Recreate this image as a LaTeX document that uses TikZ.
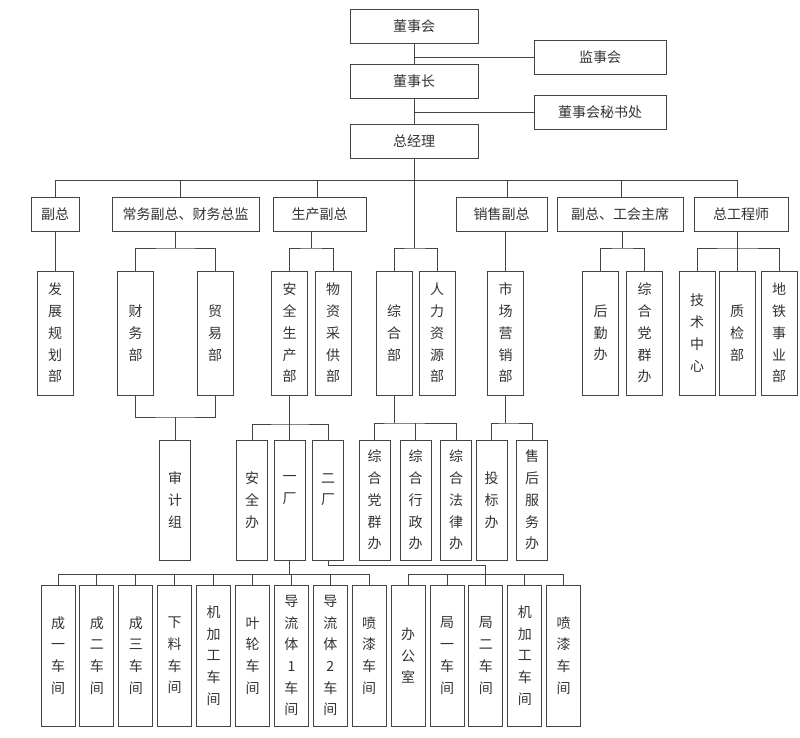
\documentclass[tikz,border=0pt]{standalone}
\usepackage{fontspec}
\newfontfamily\cjk{Noto Sans CJK SC}
\definecolor{linecol}{HTML}{444444}
\definecolor{textcol}{HTML}{333333}
\begin{document}
\begin{tikzpicture}[x=1pt,y=-1pt,
  orgbox/.style={draw=linecol,line width=1pt,inner sep=0pt,text=textcol,
    font=\cjk\fontsize{14}{21.7}\selectfont,align=center},
  hb/.style={orgbox,minimum height=34pt},
  vbA/.style={orgbox,minimum width=36pt,minimum height=124pt},
  vbB/.style={orgbox,minimum width=31pt,minimum height=120pt},
  vbC/.style={orgbox,minimum width=34pt,minimum height=141pt},
  conn/.style={draw=linecol,line width=1pt}]
\useasboundingbox (0,0) rectangle (800,737);
% ---- top
\node[hb,minimum width=128pt] (dsh) at (414,26) {董事会};
\node[hb,minimum width=132pt] (jsh) at (600,57) {监事会};
\node[hb,minimum width=128pt] (dsz) at (414,81.5) {董事长};
\node[hb,minimum width=132pt] (msc) at (600,112) {董事会秘书处};
\node[hb,minimum width=128pt] (zjl) at (414,141.5) {总经理};
% ---- level 2
\node[hb,minimum width=48pt]  (fz) at (55,214) {副总};
\node[hb,minimum width=147pt] (cw) at (185.5,214) {常务副总、财务总监};
\node[hb,minimum width=93pt]  (sc) at (319.5,214) {生产副总};
\node[hb,minimum width=91pt]  (xs) at (501.5,214) {销售副总};
\node[hb,minimum width=126pt] (gh) at (620,214) {副总、工会主席};
\node[hb,minimum width=94pt]  (zg) at (741,214) {总工程师};
% ---- level 3
\node[vbA] (fzgh) at (55,333) {发\\展\\规\\划\\部};
\node[vbA] (cwb) at (135.5,333) {财\\务\\部};
\node[vbA] (myb) at (215,333) {贸\\易\\部};
\node[vbA] (aqsc) at (289.5,333) {安\\全\\生\\产\\部};
\node[vbA] (wzcg) at (333,333) {物\\资\\采\\供\\部};
\node[vbA] (zhb) at (394,333) {综\\合\\部};
\node[vbA] (rlzy) at (437,333) {人\\力\\资\\源\\部};
\node[vbA] (scyx) at (505.5,333) {市\\场\\营\\销\\部};
\node[vbA] (hqb) at (600.5,333) {后\\勤\\办};
\node[vbA] (dqb) at (644.5,333) {综\\合\\党\\群\\办};
\node[vbA] (jszx) at (697,333) {技\\术\\中\\心};
\node[vbA] (zjb) at (737,333) {质\\检\\部};
\node[vbA] (dtsy) at (779,333) {地\\铁\\事\\业\\部};
% ---- level 4
\node[vbB] (sjz) at (175,500) {审\\计\\组};
\node[vbB] (aqb) at (252,500) {安\\全\\办};
\node[vbB] (yc) at (289.5,500) {一\\厂\\{}};
\node[vbB] (ec) at (328,500) {二\\厂\\{}};
\node[vbB] (dq2) at (374.5,500) {综\\合\\党\\群\\办};
\node[vbB] (xz) at (415.5,500) {综\\合\\行\\政\\办};
\node[vbB] (fl) at (456,500) {综\\合\\法\\律\\办};
\node[vbB] (tb) at (491.5,500) {投\\标\\办};
\node[vbB] (sh) at (532,500) {售\\后\\服\\务\\办};
% ---- level 5
\node[vbC] (b1) at (58,655.5) {成\\一\\车\\间};
\node[vbC] (b2) at (96.9,655.5) {成\\二\\车\\间};
\node[vbC] (b3) at (135.8,655.5) {成\\三\\车\\间};
\node[vbC] (b4) at (174.7,655.5) {下\\料\\车\\间};
\node[vbC] (b5) at (213.6,655.5) {机\\加\\工\\车\\间};
\node[vbC] (b6) at (252.5,655.5) {叶\\轮\\车\\间};
\node[vbC] (b7) at (291.4,655.5) {导\\流\\体\\1\\车\\间};
\node[vbC] (b8) at (330.3,655.5) {导\\流\\体\\2\\车\\间};
\node[vbC] (b9) at (369.2,655.5) {喷\\漆\\车\\间};
\node[vbC] (b10) at (408.1,655.5) {办\\公\\室};
\node[vbC] (b11) at (447,655.5) {局\\一\\车\\间};
\node[vbC] (b12) at (485.9,655.5) {局\\二\\车\\间};
\node[vbC] (b13) at (524.8,655.5) {机\\加\\工\\车\\间};
\node[vbC] (b14) at (563.7,655.5) {喷\\漆\\车\\间};
% ---- helper coordinates
\coordinate (bus) at (0,180);
\coordinate (ba) at (0,574);
\coordinate (fzd) at (55,197);
\coordinate (cwd) at (180,197);
\coordinate (scd) at (317,197);
\coordinate (xsd) at (507,197);
\coordinate (ghd) at (621,197);
\coordinate (zgd) at (737,197);
\coordinate (cwj) at (175.5,248);
\coordinate (scj) at (311,248);
\coordinate (tj) at (414,248);
\coordinate (ghj) at (622.5,248);
\coordinate (zgj) at (737,248);
\coordinate (sjj) at (175,417);
\coordinate (aqj) at (289.5,424);
\coordinate (zhj) at (394,423);
\coordinate (yxj) at (505.5,423);
\coordinate (ecb) at (328,565);
% ---- top connectors
\draw[conn] (dsh.south) -- (dsz.north);
\draw[conn] (dsh.south |- jsh.west) -- (jsh.west);
\draw[conn] (dsz.south) -- (zjl.north);
\draw[conn] (dsz.south |- msc.west) -- (msc.west);
\draw[conn] (zjl.south) -- (tj);
% ---- bus to level 2
\draw[conn] (fzd |- bus) -- (zgd |- bus);
\draw[conn] (fzd |- bus) -- (fz.north);
\draw[conn] (cwd |- bus) -- (cwd);
\draw[conn] (scd |- bus) -- (scd);
\draw[conn] (xsd |- bus) -- (xsd);
\draw[conn] (ghd |- bus) -- (ghd);
\draw[conn] (zgd |- bus) -- (zgd);
% ---- level 2 to level 3
\draw[conn] (fz.south) -- (fzgh.north);
\draw[conn] (cwj |- cw.south) -- (cwj);
\draw[conn] (cwb.north) |- (cwj) -| (myb.north);
\draw[conn] (scj |- sc.south) -- (scj);
\draw[conn] (aqsc.north) |- (scj) -| (wzcg.north);
\draw[conn] (zhb.north) |- (tj) -| (rlzy.north);
\draw[conn] (scyx.north |- xs.south) -- (scyx.north);
\draw[conn] (ghj |- gh.south) -- (ghj);
\draw[conn] (hqb.north) |- (ghj) -| (dqb.north);
\draw[conn] (zjb.north |- zg.south) -- (zjb.north);
\draw[conn] (jszx.north) |- (zgj) -| (dtsy.north);
% ---- level 3 to level 4
\draw[conn] (cwb.south) |- (sjj) -| (myb.south);
\draw[conn] (sjj) -- (sjz.north);
\draw[conn] (aqsc.south) -- (aqj);
\draw[conn] (aqb.north) |- (aqj) -| (ec.north);
\draw[conn] (aqj) -- (yc.north);
\draw[conn] (zhb.south) -- (zhj);
\draw[conn] (dq2.north) |- (zhj) -| (fl.north);
\draw[conn] (xz.north |- zhj) -- (xz.north);
\draw[conn] (scyx.south) -- (yxj);
\draw[conn] (tb.north) |- (yxj) -| (sh.north);
% ---- level 4 to level 5
\draw[conn] (b1.north |- ba) -- (b9.north |- ba);
\foreach \k in {1,...,9} {\draw[conn] (b\k.north |- ba) -- (b\k.north);}
\draw[conn] (yc.south) -- (yc.south |- ba);
\draw[conn] (b10.north |- ba) -- (b14.north |- ba);
\foreach \k in {10,...,14} {\draw[conn] (b\k.north |- ba) -- (b\k.north);}
\draw[conn] (ec.south) -- (ecb) -| (b12.north);
\end{tikzpicture}
\end{document}
